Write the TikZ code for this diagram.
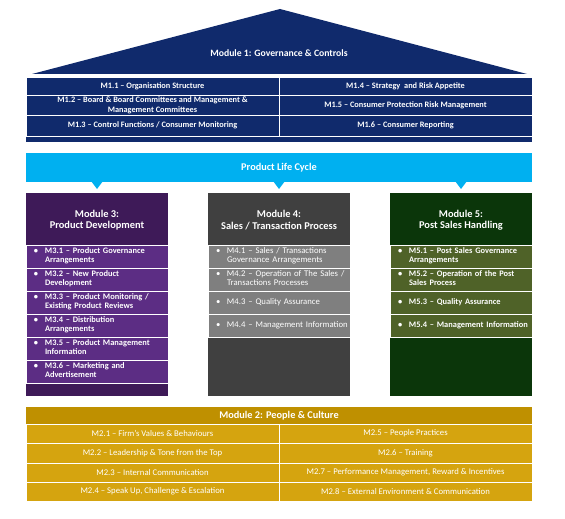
\documentclass[tikz,border=0pt]{standalone}
\usepackage{fontspec}
\setmainfont{Carlito}
\usetikzlibrary{positioning}

\definecolor{govnavy}{HTML}{102A6C}
\definecolor{lifeblue}{HTML}{00B0F0}
\definecolor{pdark}{HTML}{3E1A58}
\definecolor{pitem}{HTML}{5C2D84}
\definecolor{sdark}{HTML}{404040}
\definecolor{sitem}{HTML}{7F7F7F}
\definecolor{hdark}{HTML}{0B360A}
\definecolor{hitem}{HTML}{4F6228}
\definecolor{goldhead}{HTML}{BF9000}
\definecolor{goldrow}{HTML}{D5A40F}

\newcommand{\bul}[1]{\makebox[11pt][l]{\textbullet}\begin{tabular}[t]{@{}l@{}}#1\end{tabular}}

\tikzset{
	govcell/.style={draw=white, line width=0.8pt, fill=govnavy, text=white, minimum width=253, inner sep=0pt, align=center, font=\fontsize{8.3}{10}\selectfont\bfseries},
	pplcell/.style={draw=white, line width=0.8pt, fill=goldrow, text=white, minimum width=253, inner sep=0pt, align=center, font=\fontsize{8.7}{10}\selectfont},
	modcol/.style={minimum width=142, minimum height=203, inner sep=0pt},
	modhead/.style={text=white, align=center, font=\fontsize{10.4}{11.5}\selectfont\bfseries},
	moditem/.style={draw=white, line width=0.8pt, minimum width=142, minimum height=23, text width=126, inner xsep=8pt, inner ysep=0pt, align=left, text=white, font=\fontsize{8.4}{9}\selectfont\bfseries},
	bigbar/.style={minimum width=506, inner sep=0pt, text=white, font=\fontsize{10.3}{12}\selectfont\bfseries},
}

\begin{document}
\begin{tikzpicture}[x=1pt, y=-1pt]
		\useasboundingbox (0,0) rectangle (565,519);
		
		%%%%% MODULE 1 %%%%%
		
		\fill[govnavy] (32,74) -- (280,9) -- (527,74) -- cycle;
		\node[text=white, font=\fontsize{9.7}{11}\selectfont\bfseries] (m1title) at (279,53) {Module 1: Governance \& Controls};
		
		\node[fill=govnavy, minimum width=506, minimum height=65, inner sep=0pt] (m1base) at (279,109.5) {};
		\node[govcell, minimum height=18] (m11) at (152.5,86) {M1.1 -- Organisation Structure};
		\node[govcell, minimum height=20] (m12) at (152.5,105) {M1.2 -- Board \& Board Committees and Management \&\\Management Committees};
		\node[govcell, minimum height=21.5] (m13) at (152.5,125.75) {M1.3 -- Control Functions / Consumer Monitoring};
		\node[govcell, minimum height=18] (m14) at (405.5,86) {M1.4 -- Strategy\ \ and Risk Appetite};
		\node[govcell, minimum height=20] (m15) at (405.5,105) {M1.5 -- Consumer Protection Risk Management};
		\node[govcell, minimum height=21.5] (m16) at (405.5,125.75) {M1.6 -- Consumer Reporting};
		
		%%%%% PRODUCT LIFE CYCLE %%%%%
		
		\node[bigbar, fill=lifeblue, minimum height=29] (plc) at (279,167.5) {Product Life Cycle};
		\foreach \cx in {97,279,461}
			\fill[lifeblue] (\cx-6,181) -- (\cx+6,181) -- (\cx,189) -- cycle;
		
		%%%%% MODULE 3 %%%%%
		
		\node[modcol, fill=pdark] (m3col) at (97,294.5) {};
		\node[modhead] (m3head) at (97,220) {Module 3:\\Product Development};
		\node[moditem, fill=pitem] (m31) at (97,256.5) {\bul{M3.1 -- Product Governance\\Arrangements}};
		\node[moditem, fill=pitem] (m32) at (97,279.5) {\bul{M3.2 -- New Product\\Development}};
		\node[moditem, fill=pitem] (m33) at (97,302.5) {\bul{M3.3 -- Product Monitoring /\\Existing Product Reviews}};
		\node[moditem, fill=pitem] (m34) at (97,325.5) {\bul{M3.4 -- Distribution\\Arrangements}};
		\node[moditem, fill=pitem] (m35) at (97,348.5) {\bul{M3.5 -- Product Management\\Information}};
		\node[moditem, fill=pitem] (m36) at (97,371.5) {\bul{M3.6 -- Marketing and\\Advertisement}};
		
		%%%%% MODULE 4 %%%%%
		
		\node[modcol, fill=sdark] (m4col) at (279,294.5) {};
		\node[modhead] (m4head) at (279,220) {Module 4:\\Sales / Transaction Process};
		\node[moditem, fill=sitem, font=\fontsize{8.7}{9}\selectfont] (m41) at (279,256.5) {\bul{M4.1 -- Sales / Transactions\\Governance Arrangements}};
		\node[moditem, fill=sitem, font=\fontsize{8.7}{9}\selectfont] (m42) at (279,279.5) {\bul{M4.2 -- Operation of The Sales /\\Transactions Processes}};
		\node[moditem, fill=sitem, font=\fontsize{8.7}{9}\selectfont] (m43) at (279,302.5) {\bul{M4.3 -- Quality Assurance}};
		\node[moditem, fill=sitem, font=\fontsize{8.7}{9}\selectfont] (m44) at (279,325.5) {\bul{M4.4 -- Management Information}};
		
		%%%%% MODULE 5 %%%%%
		
		\node[modcol, fill=hdark] (m5col) at (461,294.5) {};
		\node[modhead] (m5head) at (461,220) {Module 5:\\Post Sales Handling};
		\node[moditem, fill=hitem] (m51) at (461,256.5) {\bul{M5.1 -- Post Sales Governance\\Arrangements}};
		\node[moditem, fill=hitem] (m52) at (461,279.5) {\bul{M5.2 -- Operation of the Post\\Sales Process}};
		\node[moditem, fill=hitem] (m53) at (461,302.5) {\bul{M5.3 -- Quality Assurance}};
		\node[moditem, fill=hitem] (m54) at (461,325.5) {\bul{M5.4 -- Management Information}};
		
		%%%%% MODULE 2 %%%%%
		
		\node[bigbar, fill=goldhead, minimum height=17] (m2head) at (279,415.5) {Module 2: People \& Culture};
		\node[pplcell, minimum height=19] (m21) at (152.5,433.5) {M2.1 -- Firm’s Values \& Behaviours};
		\node[pplcell, minimum height=20] (m22) at (152.5,453) {M2.2 -- Leadership \& Tone from the Top};
		\node[pplcell, minimum height=19] (m23) at (152.5,472.5) {M2.3 -- Internal Communication};
		\node[pplcell, minimum height=19] (m24) at (152.5,491.5) {M2.4 -- Speak Up, Challenge \& Escalation};
		\node[pplcell, minimum height=19] (m25) at (405.5,433.5) {M2.5 -- People Practices};
		\node[pplcell, minimum height=20] (m26) at (405.5,453) {M2.6 -- Training};
		\node[pplcell, minimum height=19] (m27) at (405.5,472.5) {M2.7 -- Performance Management, Reward \& Incentives};
		\node[pplcell, minimum height=19] (m28) at (405.5,491.5) {M2.8 -- External Environment \& Communication};
		
	\end{tikzpicture}
\end{document}
